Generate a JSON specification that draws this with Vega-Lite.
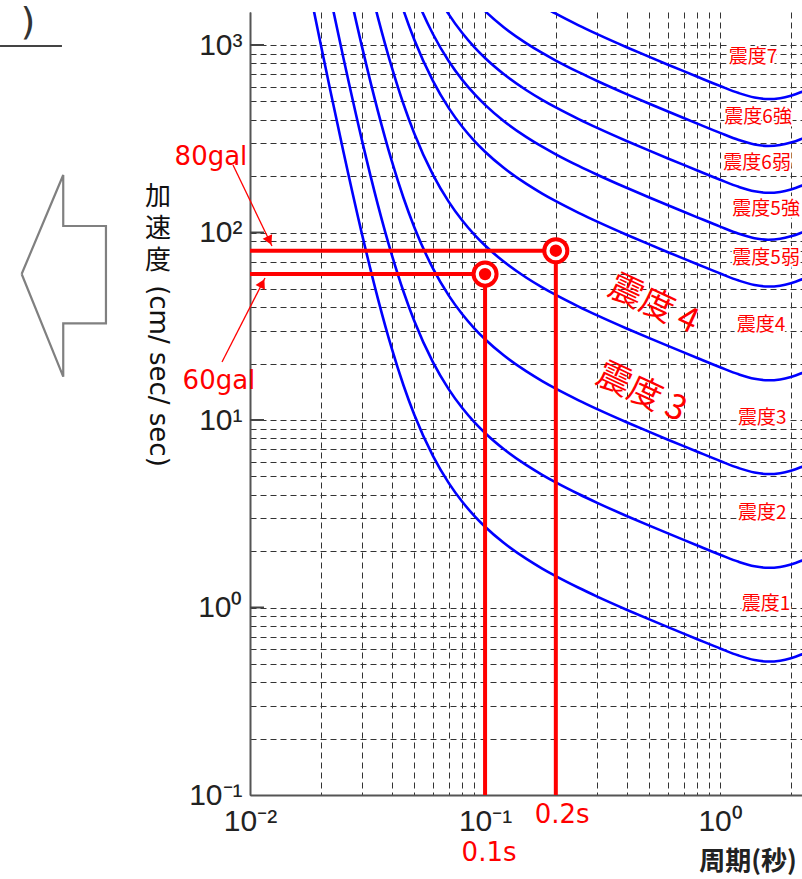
{
  "$schema": "https://vega.github.io/schema/vega-lite/v6.json",
  "width": 552,
  "height": 783,
  "autosize": {"type": "none"},
  "padding": {"left": 250, "top": 12, "right": 0, "bottom": 84},
  "background": "white",
  "config": {"view": {"stroke": null}},
  "datasets": {
    "curves": [
      {"c":"I0.5","x":0.018,"y":1916.7},{"c":"I0.5","x":0.02,"y":1005.7},{"c":"I0.5","x":0.022,"y":566.9},{"c":"I0.5","x":0.025,"y":267.9},{"c":"I0.5","x":0.03,"y":97.19},{"c":"I0.5","x":0.035,"y":44.44},{"c":"I0.5","x":0.04,"y":24.31},{"c":"I0.5","x":0.045,"y":15.28},{"c":"I0.5","x":0.05,"y":10.67},{"c":"I0.5","x":0.06,"y":6.438},{"c":"I0.5","x":0.07,"y":4.623},{"c":"I0.5","x":0.08,"y":3.664},{"c":"I0.5","x":0.09,"y":3.083},{"c":"I0.5","x":0.1,"y":2.696},{"c":"I0.5","x":0.12,"y":2.2135},{"c":"I0.5","x":0.15,"y":1.8153},{"c":"I0.5","x":0.175,"y":1.6132},{"c":"I0.5","x":0.2,"y":1.4695},{"c":"I0.5","x":0.25,"y":1.2739},{"c":"I0.5","x":0.3,"y":1.1434},{"c":"I0.5","x":0.4,"y":0.9736},{"c":"I0.5","x":0.5,"y":0.8641},{"c":"I0.5","x":0.6,"y":0.7854},{"c":"I0.5","x":0.7,"y":0.7253},{"c":"I0.5","x":0.8,"y":0.6773},{"c":"I0.5","x":1.0,"y":0.6047},{"c":"I0.5","x":1.2,"y":0.5541},{"c":"I0.5","x":1.4,"y":0.5246},{"c":"I0.5","x":1.6,"y":0.5149},{"c":"I0.5","x":1.8,"y":0.5204},{"c":"I0.5","x":2.0,"y":0.5364},{"c":"I0.5","x":2.2,"y":0.5594},{"c":"I0.5","x":2.4,"y":0.5871},
      {"c":"I1.5","x":0.02,"y":3180.2},{"c":"I1.5","x":0.022,"y":1792.7},{"c":"I1.5","x":0.025,"y":847.2},{"c":"I1.5","x":0.03,"y":307.35},{"c":"I1.5","x":0.035,"y":140.55},{"c":"I1.5","x":0.04,"y":76.89},{"c":"I1.5","x":0.045,"y":48.32},{"c":"I1.5","x":0.05,"y":33.75},{"c":"I1.5","x":0.06,"y":20.358},{"c":"I1.5","x":0.07,"y":14.619},{"c":"I1.5","x":0.08,"y":11.585},{"c":"I1.5","x":0.09,"y":9.748},{"c":"I1.5","x":0.1,"y":8.525},{"c":"I1.5","x":0.12,"y":7.0},{"c":"I1.5","x":0.15,"y":5.74},{"c":"I1.5","x":0.175,"y":5.1013},{"c":"I1.5","x":0.2,"y":4.647},{"c":"I1.5","x":0.25,"y":4.0285},{"c":"I1.5","x":0.3,"y":3.6156},{"c":"I1.5","x":0.4,"y":3.0788},{"c":"I1.5","x":0.5,"y":2.7324},{"c":"I1.5","x":0.6,"y":2.4838},{"c":"I1.5","x":0.7,"y":2.2936},{"c":"I1.5","x":0.8,"y":2.1419},{"c":"I1.5","x":1.0,"y":1.9123},{"c":"I1.5","x":1.2,"y":1.7523},{"c":"I1.5","x":1.4,"y":1.6589},{"c":"I1.5","x":1.6,"y":1.6284},{"c":"I1.5","x":1.8,"y":1.6457},{"c":"I1.5","x":2.0,"y":1.6962},{"c":"I1.5","x":2.2,"y":1.7688},{"c":"I1.5","x":2.4,"y":1.8567},
      {"c":"I2.5","x":0.022,"y":5669},{"c":"I2.5","x":0.025,"y":2679},{"c":"I2.5","x":0.03,"y":971.9},{"c":"I2.5","x":0.035,"y":444.45},{"c":"I2.5","x":0.04,"y":243.13},{"c":"I2.5","x":0.045,"y":152.81},{"c":"I2.5","x":0.05,"y":106.71},{"c":"I2.5","x":0.06,"y":64.38},{"c":"I2.5","x":0.07,"y":46.23},{"c":"I2.5","x":0.08,"y":36.64},{"c":"I2.5","x":0.09,"y":30.83},{"c":"I2.5","x":0.1,"y":26.96},{"c":"I2.5","x":0.12,"y":22.135},{"c":"I2.5","x":0.15,"y":18.153},{"c":"I2.5","x":0.175,"y":16.132},{"c":"I2.5","x":0.2,"y":14.695},{"c":"I2.5","x":0.25,"y":12.739},{"c":"I2.5","x":0.3,"y":11.434},{"c":"I2.5","x":0.4,"y":9.736},{"c":"I2.5","x":0.5,"y":8.641},{"c":"I2.5","x":0.6,"y":7.854},{"c":"I2.5","x":0.7,"y":7.253},{"c":"I2.5","x":0.8,"y":6.773},{"c":"I2.5","x":1.0,"y":6.047},{"c":"I2.5","x":1.2,"y":5.541},{"c":"I2.5","x":1.4,"y":5.246},{"c":"I2.5","x":1.6,"y":5.149},{"c":"I2.5","x":1.8,"y":5.204},{"c":"I2.5","x":2.0,"y":5.364},{"c":"I2.5","x":2.2,"y":5.594},{"c":"I2.5","x":2.4,"y":5.871},
      {"c":"I3.5","x":0.025,"y":8471.7},{"c":"I3.5","x":0.03,"y":3073.5},{"c":"I3.5","x":0.035,"y":1405.5},{"c":"I3.5","x":0.04,"y":768.9},{"c":"I3.5","x":0.045,"y":483.2},{"c":"I3.5","x":0.05,"y":337.5},{"c":"I3.5","x":0.06,"y":203.58},{"c":"I3.5","x":0.07,"y":146.19},{"c":"I3.5","x":0.08,"y":115.85},{"c":"I3.5","x":0.09,"y":97.48},{"c":"I3.5","x":0.1,"y":85.25},{"c":"I3.5","x":0.12,"y":70.0},{"c":"I3.5","x":0.15,"y":57.4},{"c":"I3.5","x":0.175,"y":51.013},{"c":"I3.5","x":0.2,"y":46.47},{"c":"I3.5","x":0.25,"y":40.285},{"c":"I3.5","x":0.3,"y":36.156},{"c":"I3.5","x":0.4,"y":30.788},{"c":"I3.5","x":0.5,"y":27.324},{"c":"I3.5","x":0.6,"y":24.838},{"c":"I3.5","x":0.7,"y":22.936},{"c":"I3.5","x":0.8,"y":21.419},{"c":"I3.5","x":1.0,"y":19.123},{"c":"I3.5","x":1.2,"y":17.523},{"c":"I3.5","x":1.4,"y":16.589},{"c":"I3.5","x":1.6,"y":16.284},{"c":"I3.5","x":1.8,"y":16.457},{"c":"I3.5","x":2.0,"y":16.962},{"c":"I3.5","x":2.2,"y":17.688},{"c":"I3.5","x":2.4,"y":18.567},
      {"c":"I4.5","x":0.035,"y":4444.5},{"c":"I4.5","x":0.04,"y":2431},{"c":"I4.5","x":0.045,"y":1528},{"c":"I4.5","x":0.05,"y":1067},{"c":"I4.5","x":0.06,"y":643.8},{"c":"I4.5","x":0.07,"y":462.3},{"c":"I4.5","x":0.08,"y":366.4},{"c":"I4.5","x":0.09,"y":308.3},{"c":"I4.5","x":0.1,"y":269.6},{"c":"I4.5","x":0.12,"y":221.35},{"c":"I4.5","x":0.15,"y":181.53},{"c":"I4.5","x":0.175,"y":161.32},{"c":"I4.5","x":0.2,"y":146.95},{"c":"I4.5","x":0.25,"y":127.39},{"c":"I4.5","x":0.3,"y":114.34},{"c":"I4.5","x":0.4,"y":97.36},{"c":"I4.5","x":0.5,"y":86.41},{"c":"I4.5","x":0.6,"y":78.54},{"c":"I4.5","x":0.7,"y":72.53},{"c":"I4.5","x":0.8,"y":67.73},{"c":"I4.5","x":1.0,"y":60.47},{"c":"I4.5","x":1.2,"y":55.41},{"c":"I4.5","x":1.4,"y":52.46},{"c":"I4.5","x":1.6,"y":51.49},{"c":"I4.5","x":1.8,"y":52.04},{"c":"I4.5","x":2.0,"y":53.64},{"c":"I4.5","x":2.2,"y":55.94},{"c":"I4.5","x":2.4,"y":58.71},
      {"c":"I5.0","x":0.045,"y":2717.4},{"c":"I5.0","x":0.05,"y":1897.7},{"c":"I5.0","x":0.06,"y":1144.8},{"c":"I5.0","x":0.07,"y":822.07},{"c":"I5.0","x":0.08,"y":651.48},{"c":"I5.0","x":0.09,"y":548.19},{"c":"I5.0","x":0.1,"y":479.4},{"c":"I5.0","x":0.12,"y":393.62},{"c":"I5.0","x":0.15,"y":322.81},{"c":"I5.0","x":0.175,"y":286.87},{"c":"I5.0","x":0.2,"y":261.31},{"c":"I5.0","x":0.25,"y":226.54},{"c":"I5.0","x":0.3,"y":203.32},{"c":"I5.0","x":0.4,"y":173.14},{"c":"I5.0","x":0.5,"y":153.66},{"c":"I5.0","x":0.6,"y":139.67},{"c":"I5.0","x":0.7,"y":128.98},{"c":"I5.0","x":0.8,"y":120.45},{"c":"I5.0","x":1.0,"y":107.54},{"c":"I5.0","x":1.2,"y":98.54},{"c":"I5.0","x":1.4,"y":93.29},{"c":"I5.0","x":1.6,"y":91.57},{"c":"I5.0","x":1.8,"y":92.55},{"c":"I5.0","x":2.0,"y":95.39},{"c":"I5.0","x":2.2,"y":99.47},{"c":"I5.0","x":2.4,"y":104.41},
      {"c":"I5.5","x":0.05,"y":3375},{"c":"I5.5","x":0.06,"y":2035.8},{"c":"I5.5","x":0.07,"y":1461.9},{"c":"I5.5","x":0.08,"y":1158.5},{"c":"I5.5","x":0.09,"y":974.8},{"c":"I5.5","x":0.1,"y":852.5},{"c":"I5.5","x":0.12,"y":700.0},{"c":"I5.5","x":0.15,"y":574.0},{"c":"I5.5","x":0.175,"y":510.13},{"c":"I5.5","x":0.2,"y":464.7},{"c":"I5.5","x":0.25,"y":402.85},{"c":"I5.5","x":0.3,"y":361.56},{"c":"I5.5","x":0.4,"y":307.88},{"c":"I5.5","x":0.5,"y":273.24},{"c":"I5.5","x":0.6,"y":248.38},{"c":"I5.5","x":0.7,"y":229.36},{"c":"I5.5","x":0.8,"y":214.19},{"c":"I5.5","x":1.0,"y":191.23},{"c":"I5.5","x":1.2,"y":175.23},{"c":"I5.5","x":1.4,"y":165.89},{"c":"I5.5","x":1.6,"y":162.84},{"c":"I5.5","x":1.8,"y":164.57},{"c":"I5.5","x":2.0,"y":169.62},{"c":"I5.5","x":2.2,"y":176.88},{"c":"I5.5","x":2.4,"y":185.67},
      {"c":"I6.0","x":0.08,"y":2060.2},{"c":"I6.0","x":0.09,"y":1733.5},{"c":"I6.0","x":0.1,"y":1516.0},{"c":"I6.0","x":0.12,"y":1244.7},{"c":"I6.0","x":0.15,"y":1020.8},{"c":"I6.0","x":0.175,"y":907.15},{"c":"I6.0","x":0.2,"y":826.34},{"c":"I6.0","x":0.25,"y":716.38},{"c":"I6.0","x":0.3,"y":642.96},{"c":"I6.0","x":0.4,"y":547.5},{"c":"I6.0","x":0.5,"y":485.9},{"c":"I6.0","x":0.6,"y":441.69},{"c":"I6.0","x":0.7,"y":407.87},{"c":"I6.0","x":0.8,"y":380.89},{"c":"I6.0","x":1.0,"y":340.06},{"c":"I6.0","x":1.2,"y":311.6},{"c":"I6.0","x":1.4,"y":295.0},{"c":"I6.0","x":1.6,"y":289.58},{"c":"I6.0","x":1.8,"y":292.66},{"c":"I6.0","x":2.0,"y":301.64},{"c":"I6.0","x":2.2,"y":314.55},{"c":"I6.0","x":2.4,"y":330.17},
      {"c":"I6.5","x":0.12,"y":3673.5},{"c":"I6.5","x":0.15,"y":1815.3},{"c":"I6.5","x":0.175,"y":1613.2},{"c":"I6.5","x":0.2,"y":1469.5},{"c":"I6.5","x":0.25,"y":1273.9},{"c":"I6.5","x":0.3,"y":1143.4},{"c":"I6.5","x":0.4,"y":973.6},{"c":"I6.5","x":0.5,"y":864.1},{"c":"I6.5","x":0.6,"y":785.4},{"c":"I6.5","x":0.7,"y":725.3},{"c":"I6.5","x":0.8,"y":677.3},{"c":"I6.5","x":1.0,"y":604.7},{"c":"I6.5","x":1.2,"y":554.1},{"c":"I6.5","x":1.4,"y":524.6},{"c":"I6.5","x":1.6,"y":514.9},{"c":"I6.5","x":1.8,"y":520.4},{"c":"I6.5","x":2.0,"y":536.4},{"c":"I6.5","x":2.2,"y":559.4},{"c":"I6.5","x":2.4,"y":587.1}
    ],
    "redlines": [
      {"x":0.01,"x2":0.2,"y":80,"y2":80},
      {"x":0.01,"x2":0.1,"y":60,"y2":60},
      {"x":0.1,"x2":0.1,"y":0.1,"y2":60},
      {"x":0.2,"x2":0.2,"y":0.1,"y2":80}
    ],
    "arrowlines": [
      {"x":0.008467,"y":229.1,"x2":0.0124,"y2":84.7},
      {"x":0.007602,"y":20.39,"x2":0.01158,"y2":57.2}
    ],
    "head80": [{"x":0.01209,"y":90.5}],
    "head60": [{"x":0.01128,"y":53.6}],
    "points": [{"x":0.1,"y":60},{"x":0.2,"y":80}],
    "decticks": [
      {"x":0.01,"x2":0.01147,"y":1,"y2":1},
      {"x":0.01,"x2":0.01147,"y":10,"y2":10},
      {"x":0.01,"x2":0.01147,"y":100,"y2":100},
      {"x":0.01,"x2":0.01147,"y":1000,"y2":1000}
    ],
    "redtext": [
      {"x":0.006823,"y":252.7,"t":"80gal"},
      {"x":0.007379,"y":16.14,"t":"60gal"},
      {"x":0.2127,"y":0.0782,"t":"0.2s"},
      {"x":0.104,"y":0.04905,"t":"0.1s"}
    ],
    "bigzone": [
      {"x":0.5187,"y":41.05,"t":"震度 4"},
      {"x":0.4611,"y":13.93,"t":"震度 3"}
    ],
    "zonelabels": [
      {"x":1.3817,"y":863.0,"t":"震度7"},
      {"x":1.4506,"y":413.0,"t":"震度6強"},
      {"x":1.4366,"y":234.8,"t":"震度6弱"},
      {"x":1.5693,"y":133.5,"t":"震度5強"},
      {"x":1.5693,"y":73.1,"t":"震度5弱"},
      {"x":1.4944,"y":32.11,"t":"震度4"},
      {"x":1.5092,"y":10.25,"t":"震度3"},
      {"x":1.5092,"y":3.19,"t":"震度2"},
      {"x":1.5693,"y":1.044,"t":"震度1"}
    ],
    "ytitlecjk": [
      {"x":0.00406,"y":154.7,"t":"加"},
      {"x":0.00406,"y":104.4,"t":"速"},
      {"x":0.00406,"y":70.47,"t":"度"}
    ],
    "arrowshape": [
      {"o":1,"x":0.001068,"y":60.07},
      {"o":2,"x":0.001605,"y":202.6},
      {"o":3,"x":0.001605,"y":108.3},
      {"o":4,"x":0.002439,"y":108.3},
      {"o":5,"x":0.002439,"y":32.79},
      {"o":6,"x":0.001605,"y":32.79},
      {"o":7,"x":0.001605,"y":17.02},
      {"o":8,"x":0.001068,"y":60.07}
    ],
    "underline": [{"x":0.000864,"x2":0.001585,"y":988,"y2":988}]
  },
  "encoding": {
    "x": {
      "field": "x", "type": "quantitative",
      "scale": {"type": "log", "domain": [0.01, 2.23], "nice": false},
      "axis": {
        "title": null,
        "values": [0.01,0.02,0.03,0.04,0.05,0.06,0.07,0.08,0.09,0.1,0.2,0.3,0.4,0.5,0.6,0.7,0.8,0.9,1,2],
        "labelExpr": "datum.value==0.01?'10⁻²':datum.value==0.1?'10⁻¹':datum.value==1?'10⁰':''",
        "grid": true, "gridDash": [6,4], "gridColor": "#333", "gridWidth": 1,
        "ticks": false, "domainColor": "#555", "domainWidth": 2,
        "labelFont": "Liberation Sans", "labelFontSize": 30, "labelColor": "#222",
        "labelPadding": 11, "labelFlush": false, "labelOverlap": false, "labelBound": false
      }
    },
    "y": {
      "field": "y", "type": "quantitative",
      "scale": {"type": "log", "domain": [0.1, 1500], "nice": false},
      "axis": {
        "title": null,
        "values": [0.1,0.2,0.3,0.4,0.5,0.6,0.7,0.8,0.9,1,2,3,4,5,6,7,8,9,10,20,30,40,50,60,70,80,90,100,200,300,400,500,600,700,800,900,1000],
        "labelExpr": "datum.value==1000?'10³':datum.value==100?'10²':datum.value==10?'10¹':datum.value==1?'10⁰':datum.value==0.1?'10⁻¹':''",
        "grid": true, "gridDash": [6,4], "gridColor": "#333", "gridWidth": 1,
        "ticks": false, "domainColor": "#555", "domainWidth": 2,
        "labelFont": "Liberation Sans", "labelFontSize": 30, "labelColor": "#222",
        "labelPadding": 8, "labelFlush": false, "labelOverlap": false, "labelBound": false
      }
    }
  },
  "layer": [
    {
      "data": {"name": "decticks"},
      "mark": {"type": "rule", "color": "#444", "strokeWidth": 2},
      "encoding": {"x2": {"field": "x2"}, "y2": {"field": "y2"}}
    },
    {
      "data": {"name": "curves"},
      "mark": {"type": "line", "color": "#0000ff", "strokeWidth": 2.6, "clip": true, "interpolate": "monotone"},
      "encoding": {"detail": {"field": "c"}}
    },
    {
      "data": {"name": "redlines"},
      "mark": {"type": "rule", "color": "#ff0000", "strokeWidth": 4},
      "encoding": {"x2": {"field": "x2"}, "y2": {"field": "y2"}}
    },
    {
      "data": {"name": "points"},
      "mark": {"type": "point", "shape": "circle", "size": 531, "filled": false, "fill": "white", "fillOpacity": 1, "stroke": "#ff0000", "strokeWidth": 4, "opacity": 1},
      "encoding": {}
    },
    {
      "data": {"name": "points"},
      "mark": {"type": "point", "shape": "circle", "size": 154, "filled": true, "color": "#ff0000", "opacity": 1},
      "encoding": {}
    },
    {
      "data": {"name": "arrowlines"},
      "mark": {"type": "rule", "color": "#ff0000", "strokeWidth": 1.3},
      "encoding": {"x2": {"field": "x2"}, "y2": {"field": "y2"}}
    },
    {
      "data": {"name": "head80"},
      "mark": {"type": "point", "shape": "triangle-up", "size": 110, "filled": true, "color": "#ff0000", "opacity": 1, "angle": 154},
      "encoding": {}
    },
    {
      "data": {"name": "head60"},
      "mark": {"type": "point", "shape": "triangle-up", "size": 110, "filled": true, "color": "#ff0000", "opacity": 1, "angle": 27},
      "encoding": {}
    },
    {
      "data": {"name": "redtext"},
      "mark": {"type": "text", "font": "DejaVu Sans", "fontSize": 26, "color": "#ff0000", "align": "center", "baseline": "middle"},
      "encoding": {"text": {"field": "t"}}
    },
    {
      "data": {"name": "bigzone"},
      "mark": {"type": "text", "font": "Noto Sans CJK JP", "fontSize": 34, "color": "#ff0000", "align": "center", "baseline": "middle", "angle": 25},
      "encoding": {"text": {"field": "t"}}
    },
    {
      "data": {"name": "zonelabels"},
      "mark": {"type": "text", "font": "Noto Sans CJK JP", "fontSize": 19, "color": "white", "stroke": "white", "strokeWidth": 4, "align": "center", "baseline": "middle"},
      "encoding": {"text": {"field": "t"}}
    },
    {
      "data": {"name": "zonelabels"},
      "mark": {"type": "text", "font": "Noto Sans CJK JP", "fontSize": 19, "color": "#ff0000", "align": "center", "baseline": "middle"},
      "encoding": {"text": {"field": "t"}}
    },
    {
      "data": {"name": "ytitlecjk"},
      "mark": {"type": "text", "font": "Noto Sans CJK JP", "fontSize": 26, "color": "#111", "align": "center", "baseline": "middle"},
      "encoding": {"text": {"field": "t"}}
    },
    {
      "data": {"values": [{"x": 0.00406, "y": 17.17, "t": "(cm/ sec/ sec)"}]},
      "mark": {"type": "text", "font": "DejaVu Sans", "fontSize": 26, "color": "#111", "align": "center", "baseline": "middle", "angle": 90},
      "encoding": {"text": {"field": "t"}}
    },
    {
      "data": {"values": [{"x": 1.3155, "y": 0.04392, "t": "周期(秒)"}]},
      "mark": {"type": "text", "font": "Noto Sans CJK JP", "fontSize": 26, "fontWeight": "bold", "color": "#222", "align": "center", "baseline": "middle"},
      "encoding": {"text": {"field": "t"}}
    },
    {
      "data": {"values": [{"x": 0.001136, "y": 1310, "t": ")"}]},
      "mark": {"type": "text", "font": "DejaVu Sans", "fontSize": 38, "color": "#333", "align": "center", "baseline": "middle"},
      "encoding": {"text": {"field": "t"}}
    },
    {
      "data": {"name": "underline"},
      "mark": {"type": "rule", "color": "#444", "strokeWidth": 2},
      "encoding": {"x2": {"field": "x2"}, "y2": {"field": "y2"}}
    },
    {
      "data": {"name": "arrowshape"},
      "mark": {"type": "line", "color": "#808080", "strokeWidth": 2.2, "interpolate": "linear"},
      "encoding": {"order": {"field": "o", "type": "quantitative"}}
    }
  ]
}
